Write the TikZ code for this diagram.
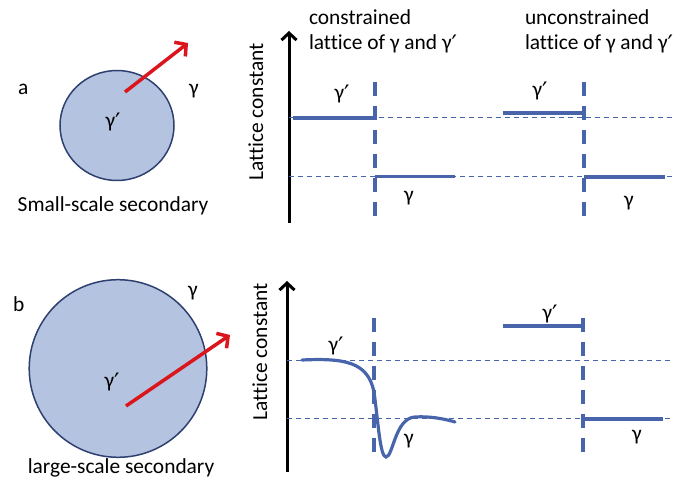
\documentclass[tikz,border=0pt]{standalone}
\usepackage{fontspec}
\setmainfont{Carlito}[Ligatures={NoCommon}]
\newfontfamily\primefont{DejaVu Sans}
\newcommand\gprime{γ\raisebox{-3pt}{\primefont\fontsize{24}{25}\selectfont ′}}
\usetikzlibrary{arrows.meta}
\definecolor{plotblue}{RGB}{72,101,172}
\definecolor{discfill}{RGB}{180,195,224}
\definecolor{discline}{RGB}{46,64,112}
\definecolor{arrred}{RGB}{218,22,28}
\begin{document}
\begin{tikzpicture}[x=1pt,y=-1pt,
  every node/.style={font=\fontsize{21.4}{25}\selectfont, inner sep=0pt, outer sep=0pt},
  lbl/.style={anchor=base},
  disc/.style={draw=discline, line width=1.5pt, fill=discfill},
  redarrow/.style={draw=arrred, line width=3.5pt, -{Straight Barb[length=8pt,width=18pt]}},
  axisarrow/.style={draw=black, line width=3pt, -{Straight Barb[length=7pt,width=15pt]}},
  interface/.style={draw=plotblue, line width=3.5pt, dash pattern=on 14pt off 10pt},
  refline/.style={draw=plotblue, line width=1pt, dash pattern=on 5pt off 4pt},
  level/.style={draw=plotblue, line width=3.2pt},
]
\path[use as bounding box] (0,0) rectangle (673,489);

% ---------- panel a ----------
\node[lbl, anchor=base west] (la) at (18,95) {a};
\draw[disc] (117,125.5) ellipse [x radius=57, y radius=55];
\coordinate (a0) at (125,92);
\coordinate (a1) at (188,43);
\draw[redarrow] (a0) -- (a1);
\node[lbl] (ga) at (194,95) {γ};
\node[lbl] (gpa) at (113,128) {\gprime};
\node[lbl] (capa) at (113,212) {Small-scale secondary};

\coordinate (axa0) at (289,223);
\coordinate (axa1) at (289,31);
\draw[axisarrow] (axa0) -- (axa1);
\node[anchor=base, rotate=90] (lca) at (263,112) {Lattice constant};
\node[anchor=base west] (t1) at (309,25) {constrained};
\node[anchor=base west] (t2) at (309,50) {lattice of γ and \gprime};
\node[anchor=base west] (t3) at (525,25) {unconstrained};
\node[anchor=base west] (t4) at (525,50) {lattice of γ and \gprime};

\draw[refline] (289,118) -- (673,118);
\draw[refline] (289,176.5) -- (673,176.5);
\draw[interface] (375,82) -- (375,217);
\draw[interface] (584,82) -- (584,217);
\draw[level] (293,118) -- (375,118);
\draw[level] (375,176.5) -- (455,176.5);
\draw[level] (503,113) -- (584,113);
\draw[level] (584,177) -- (665,177);
\node[lbl] (pa1) at (342,100) {\gprime};
\node[lbl] (pa2) at (409,202) {γ};
\node[lbl] (pa3) at (540,97) {\gprime};
\node[lbl] (pa4) at (629,207) {γ};

% ---------- panel b ----------
\node[lbl, anchor=base west] (lb) at (13,312) {b};
\draw[disc] (118,368.5) circle [radius=88.8];
\coordinate (b0) at (126,406);
\coordinate (b1) at (230,335);
\node[lbl] (gb) at (193,297) {γ};
\node[lbl] (gpb) at (112,388) {\gprime};
\draw[redarrow] (b0) -- (b1);
\node[lbl] (capb) at (121,473) {large-scale secondary};

\coordinate (axb0) at (287,472);
\coordinate (axb1) at (287,281);
\draw[axisarrow] (axb0) -- (axb1);
\node[anchor=base, rotate=90] (lcb) at (267,352) {Lattice constant};

\draw[refline] (287,361) -- (673,361);
\draw[refline] (287,419) -- (673,419);
\draw[interface] (374,318) -- (374,453);
\draw[interface] (583,318) -- (583,453);
\draw[level, line cap=round] (302,360) .. controls (345,358) and (368,362) .. (374,392)
  .. controls (378,420) and (380,457) .. (386,457)
  .. controls (393,457) and (395,418) .. (415,417)
  .. controls (430,416) and (445,419) .. (455,422);
\draw[level] (503,326) -- (583,326);
\draw[plotblue, line width=2pt] (583,320) -- (583,332);
\draw[level] (583,419) -- (663,419);
\node[lbl] (pb1) at (336,352) {\gprime};
\node[lbl] (pb2) at (409,445) {γ};
\node[lbl] (pb3) at (550,320) {\gprime};
\node[lbl] (pb4) at (637,440) {γ};
\end{tikzpicture}
\end{document}
